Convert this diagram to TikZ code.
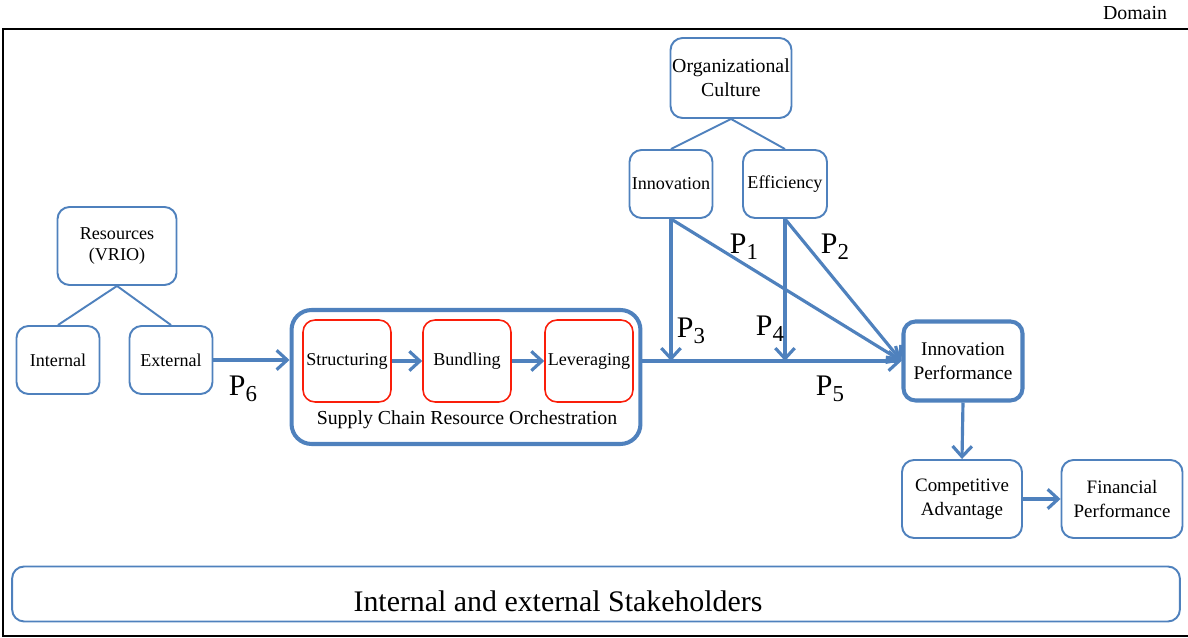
\documentclass[tikz,border=0pt]{standalone}
\usepackage{fontspec}
\setmainfont{Liberation Serif}
\usepackage{tikz}
\usetikzlibrary{arrows.meta}
\definecolor{boxblue}{RGB}{79,129,189}
\definecolor{boxred}{RGB}{250,30,10}
\newcommand{\plab}[1]{P\raisebox{-0.45ex}{\fontsize{13}{13}\selectfont #1}}

\begin{document}
\begin{tikzpicture}[x=0.02cm,y=-0.02cm,
        box/.style={shape=rectangle,rounded corners=0.24cm,draw=boxblue,line width=1.1pt,inner sep=0pt,align=center,font=\fontsize{10.3}{12.5}\selectfont},
        thickbox/.style={box,line width=2.3pt},
        redbox/.style={box,draw=boxred,line width=0.9pt,minimum width=1.76cm,minimum height=1.64cm},
        link/.style={draw=boxblue,line width=1.1pt},
        flow/.style={draw=boxblue,line width=1.8pt,-{Straight Barb[length=6pt,width=11pt]}},
        plabel/.style={font=\fontsize{17}{20}\selectfont,inner sep=0pt}]
        \useasboundingbox (0,0) rectangle (1188,638);
        \draw[line width=0.8pt] (3,29) rectangle (1195,636);
        \node[font=\fontsize{11.3}{13}\selectfont] (domain) at (1135,13) {Domain};

        \node[box,minimum width=2.42cm,minimum height=1.6cm,font=\fontsize{11.3}{13.5}\selectfont] (culture) at (731,78) {Organizational\\Culture};
        \node[box,minimum width=1.66cm,minimum height=1.36cm] (innov) at (671,184) {Innovation};
        \node[box,minimum width=1.68cm,minimum height=1.36cm] (effic) at (785,184) {Efficiency};
        \draw[link] (culture.south) -- (innov.north);
        \draw[link] (culture.south) -- (effic.north);

        \node[box,minimum width=2.38cm,minimum height=1.56cm] (resources) at (117,246) {Resources\\(VRIO)};
        \node[box,minimum width=1.66cm,minimum height=1.36cm] (internal) at (58,360) {Internal};
        \node[box,minimum width=1.66cm,minimum height=1.36cm] (external) at (171,360) {External};
        \draw[link] (resources.south) -- (internal.north);
        \draw[link] (resources.south) -- (external.north);

        \node[thickbox,rounded corners=0.4cm,minimum width=6.98cm,minimum height=2.68cm] (scro) at (466,377) {};
        \node[redbox] (struct) at (347,361) {Structuring};
        \node[redbox] (bundl) at (467,361) {Bundling};
        \node[redbox] (lever) at (589,361) {Leveraging};
        \node[font=\fontsize{11.3}{13}\selectfont] (scrolabel) at (467,420) {Supply Chain Resource Orchestration};

        \node[thickbox,minimum width=2.38cm,minimum height=1.58cm,font=\fontsize{11}{13.5}\selectfont] (innovperf) at (963,361) {Innovation\\Performance};
        \node[box,minimum width=2.4cm,minimum height=1.56cm,font=\fontsize{10.8}{13.5}\selectfont] (compadv) at (962,499) {Competitive\\Advantage};
        \node[box,minimum width=2.42cm,minimum height=1.56cm,font=\fontsize{10.8}{13.5}\selectfont] (finperf) at (1122,499) {Financial\\Performance};

        \node[box,minimum width=23.36cm,minimum height=1.1cm] (stake) at (596,594) {};
        \node[font=\fontsize{17}{20}\selectfont] (stakelabel) at (558,601) {Internal and external Stakeholders};

        \draw[flow] (external.east) -- (external.east -| scro.west);
        \draw[flow] (struct) -- (bundl);
        \draw[flow] (bundl) -- (lever);
        \draw[flow] (scro.east |- innovperf.west) -- (innovperf.west);
        \draw[flow] (innov.south) -- (innov.south |- innovperf.west);
        \draw[flow] (effic.south) -- (effic.south |- innovperf.west);
        \draw[flow] (innov.south) -- (innovperf.west);
        \draw[flow] (effic.south) -- (innovperf.west);
        \draw[flow] (innovperf.south) -- (compadv.north);
        \draw[flow] (compadv.east) -- (finperf.west);

        \node[plabel] (p1) at (744,247) {\plab{1}};
        \node[plabel] (p2) at (835,247) {\plab{2}};
        \node[plabel] (p3) at (691,331) {\plab{3}};
        \node[plabel] (p4) at (770,329) {\plab{4}};
        \node[plabel] (p5) at (830,389) {\plab{5}};
        \node[plabel] (p6) at (243,389) {\plab{6}};
    \end{tikzpicture}
\end{document}
